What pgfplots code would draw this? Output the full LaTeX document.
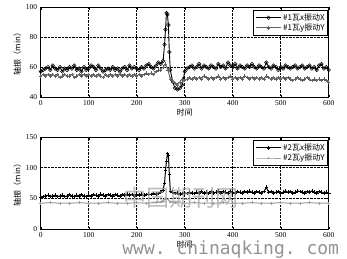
\documentclass[border=0pt]{standalone}
\usepackage{pgfplots}
\pgfplotsset{compat=1.18}
\usepackage{pgfplotstable}
\usepackage{fontspec}
\setmainfont{Liberation Serif}
\setsansfont{Liberation Sans}
\setmonofont{DejaVu Sans Mono}
\newfontfamily\cjk{Noto Sans CJK SC}

\pgfplotstableread{
x y
0 57
5 58
10 59
15 60
20 58
25 61
30 59
35 58
40 60
45 57
50 59
55 58
60 60
65 59
70 61
75 58
80 59
85 57
90 60
95 58
100 59
105 61
110 60
115 58
120 61
125 59
130 57
135 58
140 59
145 58
150 60
155 58
160 59
165 57
170 59
175 60
180 58
185 61
190 59
195 60
200 59
205 58
210 60
215 59
220 61
225 62
230 60
235 59
240 61
245 63
250 62
255 64
258 75
260 85
262 96
264 95
266 88
268 70
270 58
275 50
280 46
285 45
290 46
295 48
300 57
305 59
310 60
315 61
320 59
325 60
330 62
335 59
340 61
345 60
350 59
355 61
360 60
365 59
370 62
375 60
380 61
385 59
390 63
395 61
400 60
405 62
410 59
415 61
420 60
425 59
430 61
435 60
440 62
445 60
450 59
455 61
460 60
465 59
470 63
475 60
480 59
485 61
490 60
495 58
500 60
505 59
510 61
515 60
520 59
525 60
530 61
535 59
540 60
545 61
550 59
555 60
560 61
565 59
570 60
575 58
580 61
585 62
590 59
595 60
600 58
}\topX

\pgfplotstableread{
x y
0 54
5 55
10 54
15 55
20 54
25 55
30 54
35 55
40 53
45 54
50 55
55 54
60 54
65 55
70 53
75 54
80 55
85 54
90 55
95 54
100 55
105 54
110 55
115 54
120 55
125 54
130 53
135 55
140 54
145 55
150 54
155 55
160 54
165 55
170 54
175 55
180 54
185 55
190 54
195 55
200 54
205 55
210 54
215 55
220 56
225 55
230 56
235 55
240 57
245 58
250 58
255 60
260 62
265 58
270 52
275 50
280 49
285 48
290 50
295 52
300 51
305 52
310 53
315 52
320 53
325 52
330 53
335 52
340 54
345 53
350 52
355 53
360 52
365 53
370 54
375 52
380 53
385 52
390 53
395 54
400 52
405 53
410 52
415 53
420 52
425 54
430 53
435 52
440 53
445 52
450 53
455 52
460 53
465 52
470 54
475 53
480 52
485 53
490 52
495 53
500 52
505 53
510 52
515 53
520 52
525 51
530 52
535 53
540 52
545 51
550 52
555 53
560 52
565 51
570 52
575 51
580 52
585 51
590 52
595 51
600 50
}\topY

\pgfplotstableread{
x y
0 52
5 53
10 54
15 55
20 53
25 54
30 55
35 53
40 54
45 55
50 53
55 54
60 56
65 54
70 53
75 55
80 54
85 56
90 54
95 53
100 55
105 54
110 56
115 55
120 54
125 57
130 55
135 54
140 56
145 55
150 54
155 56
160 55
165 54
170 56
175 55
180 57
185 55
190 56
195 54
200 56
205 55
210 57
215 55
220 56
225 57
230 56
235 58
240 57
245 58
250 60
255 64
258 75
260 95
262 110
264 123
266 120
268 90
270 62
275 60
280 58
285 59
290 57
295 58
300 59
305 58
310 60
315 59
320 58
325 60
330 59
335 61
340 59
345 60
350 58
355 61
360 59
365 60
370 62
375 59
380 61
385 60
390 59
395 62
400 60
405 59
410 61
415 60
420 59
425 61
430 60
435 62
440 60
445 59
450 61
455 60
460 59
465 61
470 68
475 60
480 61
485 59
490 60
495 61
500 59
505 60
510 62
515 60
520 61
525 59
530 60
535 62
540 61
545 60
550 59
555 61
560 60
565 62
570 60
575 59
580 61
585 60
590 59
595 60
600 58
}\botX

\pgfplotstableread{
x y
0 42
20 43
40 42
60 42
80 43
100 42
120 42
140 43
160 42
180 42
200 43
220 42
240 43
250 44
255 46
260 50
265 48
270 44
280 43
300 42
320 43
340 42
360 42
380 43
400 42
420 42
440 43
460 42
480 42
500 43
520 42
540 42
560 43
580 42
600 42
}\botY

\definecolor{dgray}{gray}{0.38}
\definecolor{lgray}{gray}{0.62}

\pgfplotsset{
  myaxis/.style={
    scale only axis, width=288pt,
    xmin=0, xmax=600, xtick={0,100,...,600},
    grid=major, major grid style={black, densely dotted, line width=0.5pt},
    axis line style={black, line width=0.6pt},
    tick style={black, line width=0.4pt},
    major tick length=2.5pt,
    tick align=inside,
    ticklabel style={font=\fontsize{7.5}{8}\selectfont},
    /pgf/number format/assume math mode=true,
    ylabel style={font=\cjk\fontsize{8}{9}\selectfont, yshift=-2pt},
    xlabel style={font=\cjk\fontsize{8}{9}\selectfont, yshift=4pt},
    legend style={draw=black, line width=0.9pt, font=\cjk\fontsize{8}{9}\selectfont,
      at={(0.998,0.965)}, anchor=north east, inner sep=1.5pt, row sep=-1pt,
      nodes={inner sep=1.5pt}},
    legend image code/.code={
      \draw[mark repeat=2,mark phase=2] plot coordinates {(0cm,0cm) (0.45cm,0cm) (0.9cm,0cm)};},
    legend cell align=left,
  }
}

\begin{document}
\begin{tikzpicture}
\begin{axis}[myaxis, at={(0,132pt)}, height=90pt,
  ymin=40, ymax=100, ytick={40,60,80,100},
  xlabel={时间}, ylabel={轴振（min）}]
\addplot[black, line width=0.9pt, mark=o, mark size=1.8pt, mark options={line width=0.5pt}] table {\topX};
\addlegendentry{\#1瓦x振动X}
\addplot[dgray, line width=0.9pt, mark=+, mark size=1.6pt, mark options={line width=0.5pt}] table {\topY};
\addlegendentry{\#1瓦y振动Y}
\end{axis}
\begin{axis}[myaxis, at={(0,0)}, height=92pt,
  ymin=0, ymax=150, ytick={0,50,100,150},
  xlabel={时间}, ylabel={轴振（min）}]
\addplot[black, line width=1pt, mark=+, mark size=1.8pt, mark options={line width=0.5pt}] table {\botX};
\addlegendentry{\#2瓦x振动X}
\addplot[lgray, line width=1pt, mark=+, mark size=1.4pt, mark options={line width=0.5pt}] table {\botY};
\addlegendentry{\#2瓦y振动Y}
\end{axis}
\node[gray!75, font=\cjk\fontsize{23}{23}\selectfont, opacity=0.7] at (140pt,31pt) {中国期刊网};
\node[gray!85, font=\ttfamily\fontsize{18}{18}\selectfont, anchor=base, inner sep=0pt] at (190pt,-25pt) {www. chinaqking. com};
\pgfresetboundingbox
\path (-40.7pt,-29pt) rectangle (306.3pt,229pt);
\end{tikzpicture}
\end{document}
